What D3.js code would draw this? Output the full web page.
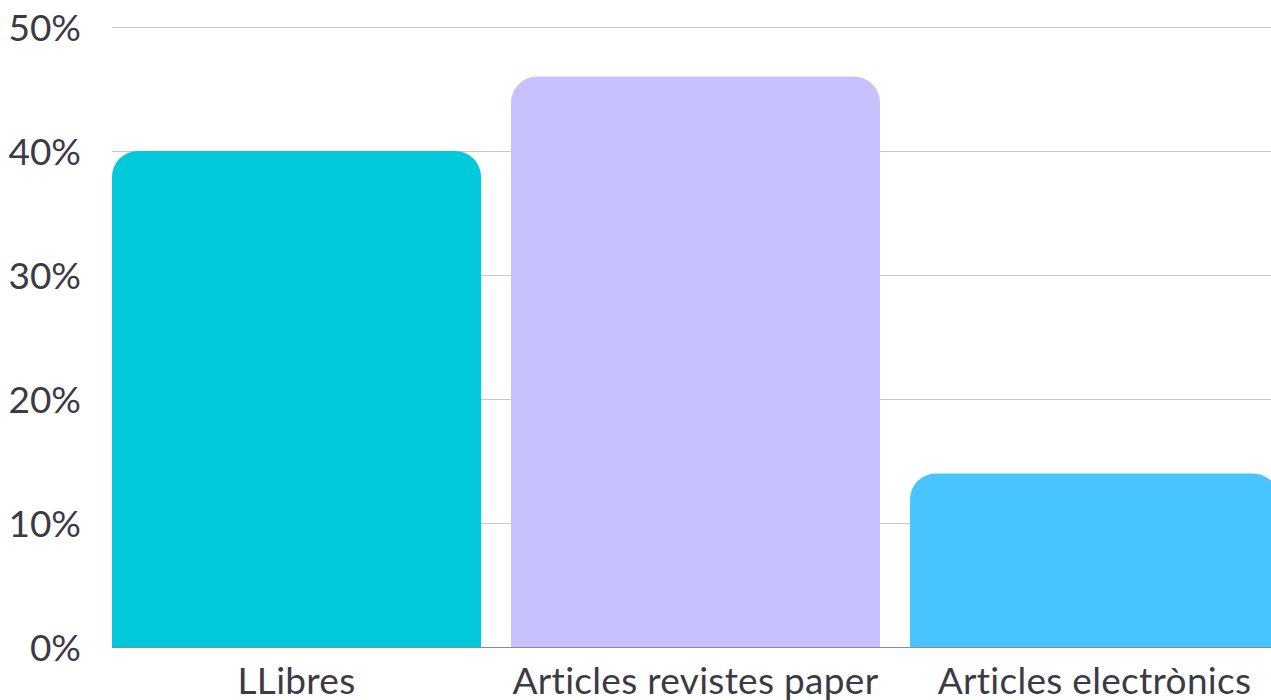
<!DOCTYPE html>
<html>
<head>
<meta charset="utf-8">
<script src="https://cdn.jsdelivr.net/npm/d3@7"></script>
<style>
  html, body { margin: 0; padding: 0; background: #fff; overflow: hidden; }
  text { font-family: Lato, "Open Sans", sans-serif; fill: #3b3b45; }
</style>
</head>
<body>
<svg id="chart" width="1271" height="700"></svg>
<script>
// data
const categories = ["LLibres", "Articles revistes paper", "Articles electrònics"];
const values = [40, 46, 14];
const colors = ["#00c9db", "#c7c1fe", "#48c4fe"];
const yTicks = [0, 10, 20, 30, 40, 50];

const width = 1271, height = 700;
const margin = { top: 27, right: -8, bottom: 53, left: 112 };
const radius = 26;

const svg = d3.select("#chart");

const x = d3.scaleBand()
    .domain(categories)
    .range([margin.left, width - margin.right])
    .paddingInner(0.075)
    .paddingOuter(0);

const y = d3.scaleLinear()
    .domain([0, 50])
    .range([height - margin.bottom, margin.top]);

// grid lines
svg.append("g")
    .selectAll("line")
    .data(yTicks.filter(d => d > 0))
    .join("line")
    .attr("x1", margin.left)
    .attr("x2", width)
    .attr("y1", d => Math.round(y(d)) + 0.5)
    .attr("y2", d => Math.round(y(d)) + 0.5)
    .attr("stroke", "#c8c8ce")
    .attr("stroke-width", 1);

// baseline
svg.append("line")
    .attr("x1", margin.left)
    .attr("x2", width)
    .attr("y1", y(0) + 0.5)
    .attr("y2", y(0) + 0.5)
    .attr("stroke", "#8a8a90")
    .attr("stroke-width", 1);

// bars with rounded tops
function topRounded(x0, y0, w, h, r) {
    r = Math.min(r, h, w / 2);
    return `M${x0},${y0 + h}V${y0 + r}A${r},${r} 0 0 1 ${x0 + r},${y0}` +
        `H${x0 + w - r}A${r},${r} 0 0 1 ${x0 + w},${y0 + r}V${y0 + h}Z`;
}

svg.append("g")
    .selectAll("path")
    .data(categories)
    .join("path")
    .attr("d", (c, i) => topRounded(x(c), y(values[i]), x.bandwidth(), y(0) - y(values[i]), radius))
    .attr("fill", (c, i) => colors[i]);

// y axis labels
svg.append("g")
    .selectAll("text")
    .data(yTicks)
    .join("text")
    .attr("x", 81)
    .attr("y", d => y(d) + 14)
    .attr("text-anchor", "end")
    .attr("font-size", "37px")
    .text(d => d + "%");

// x axis labels
svg.append("g")
    .selectAll("text")
    .data(categories)
    .join("text")
    .attr("x", c => x(c) + x.bandwidth() / 2)
    .attr("y", 694)
    .attr("text-anchor", "middle")
    .attr("font-size", "37px")
    .attr("letter-spacing", "0.3px")
    .text(c => c);
</script>
</body>
</html>
